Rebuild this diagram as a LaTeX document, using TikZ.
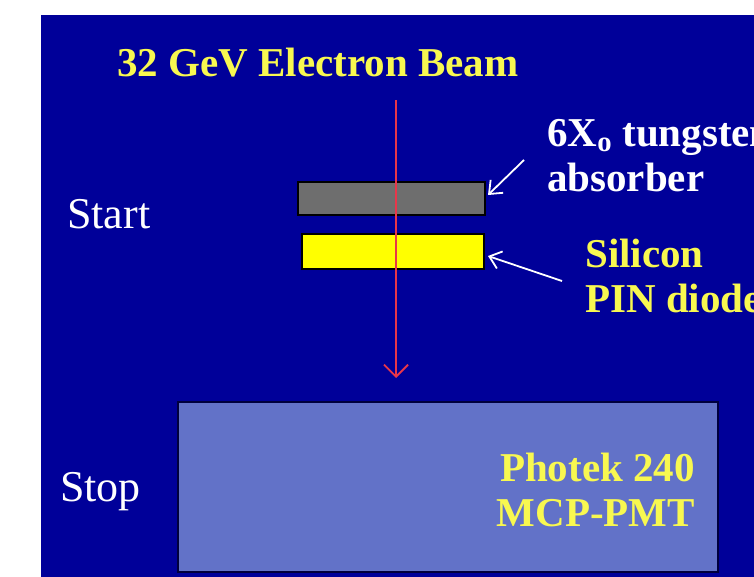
\documentclass[tikz,border=0pt]{standalone}
\usepackage{fontspec}
\setmainfont{Liberation Serif}
\usetikzlibrary{arrows.meta, positioning}
\definecolor{tbBlue}{HTML}{000099}
\definecolor{tbPmt}{HTML}{6272C8}
\definecolor{tbGray}{HTML}{6E6E6E}
\definecolor{tbYellow}{HTML}{FFFF00}
\definecolor{tbText}{HTML}{F8F850}
\definecolor{tbRed}{HTML}{E8364A}
\tikzset{
  sidelabel/.style={text=white, inner sep=0pt,
    font=\fontsize{44}{48}\selectfont},
  boldlabel/.style={inner sep=0pt, align=left,
    font=\fontsize{41}{45}\selectfont\bfseries},
  layer/.style={draw=black, line width=2pt},
  pointer/.style={-{Straight Barb[length=11pt, width=18pt]}, white, line width=1.8pt},
  beam/.style={-{Straight Barb[length=12pt, width=24pt]}, tbRed, line width=1.8pt}
}
\begin{document}
\begin{tikzpicture}[x=1pt, y=-1pt]
  \useasboundingbox (0,0) rectangle (754,577);
  \fill[white] (0,0) rectangle (754,577);
  \clip (0,0) rectangle (754,577);
  \fill[tbBlue] (41,15) rectangle (754,577);

  % detector stack
  \draw[layer, fill=tbGray] (298,182) rectangle (485,215);
  \draw[layer, fill=tbYellow] (302,234) rectangle (484,269);
  \coordinate (absorber) at (488,195);
  \coordinate (diode) at (488,256);
  \draw[draw=black!60!tbBlue, line width=1.5pt, fill=tbPmt] (178,402) rectangle (718,572);

  % labels (base = last line)
  \node[boldlabel, text=tbText, anchor=base west] (title) at (117,77) {32 GeV Electron Beam};
  \node[boldlabel, text=white, anchor=base west] (tungsten) at (547,192)
    {6X\textsubscript{o} tungsten\\absorber};
  \node[boldlabel, text=tbText, anchor=base west] (silicon) at (585,312)
    {Silicon\\PIN diode};
  \node[boldlabel, text=tbText, anchor=base east, align=right] (photek) at (695,526)
    {Photek 240\\MCP-PMT};
  \node[sidelabel, anchor=base west] (start) at (67,229) {Start};
  \node[sidelabel, anchor=base west] (stop) at (60,501) {Stop};

  % pointers and beam
  \coordinate (tungstenfoot) at (524,160);
  \coordinate (siliconfoot) at (562,281);
  \draw[pointer] (tungstenfoot) -- (absorber);
  \draw[pointer] (siliconfoot) -- (diode);
  \coordinate (beamtop) at (396,100);
  \coordinate (beamend) at (396,378);
  \draw[beam] (beamtop) -- (beamend);
\end{tikzpicture}
\end{document}
